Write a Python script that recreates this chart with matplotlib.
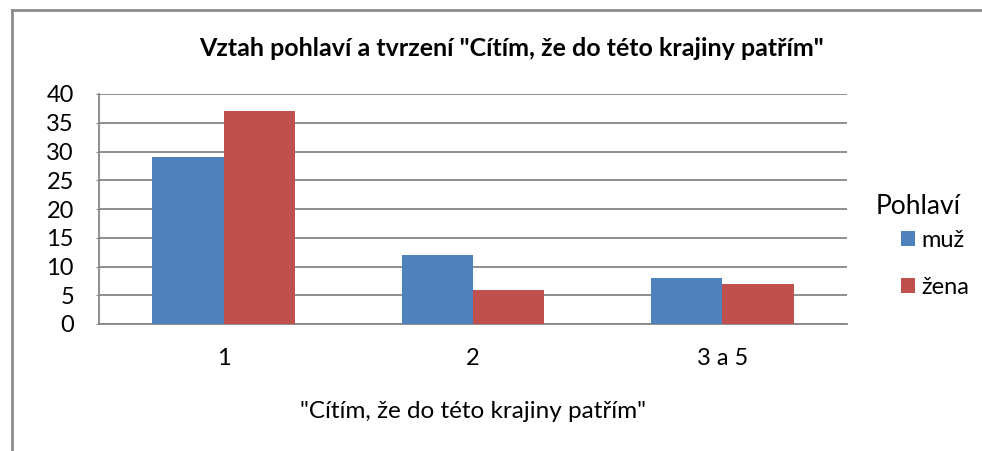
import matplotlib
matplotlib.use("Agg")
import matplotlib.pyplot as plt
from matplotlib.lines import Line2D
import numpy as np

plt.rcParams['font.family'] = ['Lato', 'DejaVu Sans']

categories = ["1", "2", "3 a 5"]
muz = [29, 12, 8]
zena = [37, 6, 7]
series_names = ["muž", "žena"]
colors = ["#4F81BD", "#C0504D"]
grid_color = "#868686"

fig = plt.figure(figsize=(9.82, 4.51), dpi=100)
ax = fig.add_axes([99/982, 1-324/451, (847-99)/982, (324-94)/451])

x = np.arange(len(categories))
w = 1/3.5
b1 = ax.bar(x - w/2, muz, w, color=colors[0], label=series_names[0], zorder=3)
b2 = ax.bar(x + w/2, zena, w, color=colors[1], label=series_names[1], zorder=3)

ax.set_xlim(-0.5, len(categories) - 0.5)
ax.set_ylim(0, 40)
ax.set_yticks(range(0, 41, 5))
ax.set_xticks(x)
ax.set_xticklabels(categories)
ax.yaxis.grid(True, color=grid_color, linewidth=1.3, zorder=0)
ax.set_axisbelow(True)
for s in ["top", "right"]:
    ax.spines[s].set_visible(False)
for s in ["left", "bottom"]:
    ax.spines[s].set_color(grid_color)
    ax.spines[s].set_linewidth(1.3)
ax.tick_params(axis='y', length=2, color=grid_color, labelsize=17, pad=16)
ax.tick_params(axis='x', length=0, labelsize=17, pad=17)

fig.text(511/982, 1-48/451, 'Vztah pohlaví a tvrzení "Cítím, že do této krajiny patřím"',
         ha='center', va='center', fontsize=18, fontweight='bold')
fig.text(473/982, 1-412/451, '"Cítím, že do této krajiny patřím"',
         ha='center', va='center', fontsize=17.5)

# legenda: nadpis zvlast, polozky pod nim
fig.text(876/982, 1-206/451, "Pohlaví", ha='left', va='center', fontsize=19)
leg = fig.legend(handles=[b1, b2], loc='upper left',
                 bbox_to_anchor=(901/982, 1-230/451), frameon=False, fontsize=17,
                 handlelength=0.6, handleheight=0.6, handletextpad=0.25,
                 labelspacing=1.1, borderpad=0, borderaxespad=0)

# ramecek grafu (jen levy a horni okraj je videt)
fy = 1 - 9.5/451
fx = 11.5/982
fig.add_artist(Line2D([fx, fx], [0, fy], transform=fig.transFigure,
                      color="#8c8c8c", linewidth=2, solid_capstyle='projecting'))
fig.add_artist(Line2D([fx, 1], [fy, fy], transform=fig.transFigure,
                      color="#8c8c8c", linewidth=2, solid_capstyle='projecting'))

fig.savefig("out.png", dpi=100)
